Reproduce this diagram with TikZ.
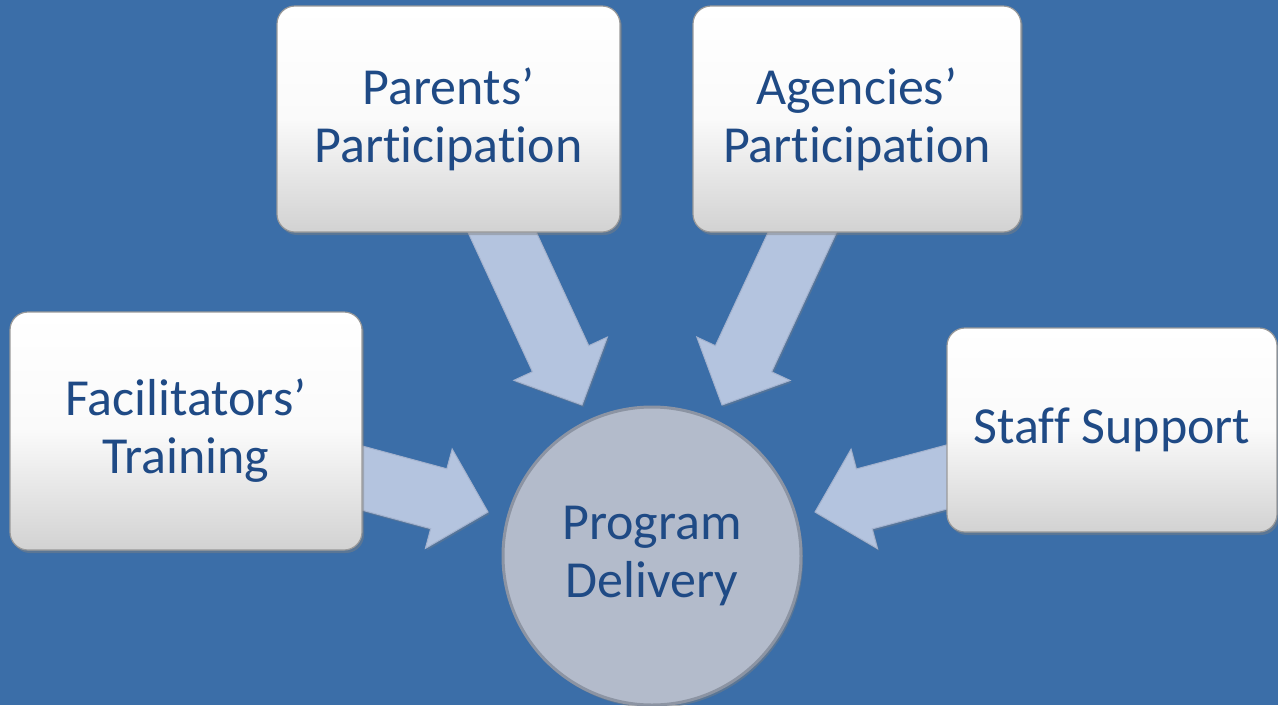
\documentclass[tikz,border=0pt]{standalone}
\usepackage{fontspec}
\setmainfont{Carlito}[Ligatures=NoCommon]
\usetikzlibrary{calc,shadows}
\definecolor{bgblue}{HTML}{3B6EA8}
\definecolor{txtblue}{HTML}{1F4A85}
\definecolor{arrowfill}{HTML}{B4C4DF}
\definecolor{arrowedge}{HTML}{A3B2CE}
\definecolor{circfill}{HTML}{B3BBCB}
\definecolor{circedge}{HTML}{8C94A3}
\definecolor{boxedge}{HTML}{9A9A9A}
\definecolor{boxbottom}{HTML}{D2D2D2}
\newcommand\blockarrow[3]{%
  \coordinate (#3b) at ($(#2)!51pt!(#1)$);
  \filldraw[arrowstyle]
    ($(#1)!31pt!90:(#2)$) -- ($(#3b)!31pt!90:(#2)$) -- ($(#3b)!51.5pt!90:(#2)$)
    -- (#2) -- ($(#3b)!51.5pt!-90:(#2)$) -- ($(#3b)!31pt!-90:(#2)$)
    -- ($(#1)!31pt!-90:(#2)$) -- cycle;
}
\tikzset{
  arrowstyle/.style={fill=arrowfill, draw=arrowedge, line width=1pt, line join=miter,
    drop shadow={shadow xshift=1.5pt, shadow yshift=-2pt, opacity=0.35}},
  boxstyle/.style={rectangle, rounded corners=18pt, draw=boxedge, line width=1.2pt,
    top color=white, bottom color=boxbottom, middle color=white!96!gray,
    drop shadow={shadow xshift=2pt, shadow yshift=-3pt, opacity=0.45},
    align=center, text=txtblue, font=\fontsize{52}{58}\selectfont, inner sep=0pt},
  circstyle/.style={circle, fill=circfill, draw=circedge, line width=3pt,
    drop shadow={shadow xshift=2pt, shadow yshift=-3pt, opacity=0.45},
    align=center, text=txtblue, font=\fontsize{52}{58}\selectfont, inner sep=0pt}
}
\begin{document}
\begin{tikzpicture}[x=1pt,y=-1pt]
\useasboundingbox (0,0) rectangle (1278,705);
\fill[bgblue] (0,0) rectangle (1278,705);
% arrow end points
\coordinate (pa1) at (493.6,213.8);
\coordinate (pa2) at (582,405);
\coordinate (ag1) at (810.9,213.8);
\coordinate (ag2) at (722,405);
\coordinate (fa1) at (342.7,472.8);
\coordinate (fa2) at (488,512);
\coordinate (st1) at (966.3,471.8);
\coordinate (st2) at (815,512);
\blockarrow{pa1}{pa2}{pa}
\blockarrow{ag1}{ag2}{ag}
\blockarrow{fa1}{fa2}{fa}
\blockarrow{st1}{st2}{st}
% boxes
\node[boxstyle, minimum width=343pt, minimum height=226pt] (parents) at (448.5,119) {Parents’\\Participation};
\node[boxstyle, minimum width=328pt, minimum height=226pt] (agencies) at (857,119) {Agencies’\\Participation};
\node[boxstyle, minimum width=352pt, minimum height=238pt] (facil) at (186,431) {Facilitators’\\Training};
\node[boxstyle, minimum width=330pt, minimum height=204pt] (staff) at (1112,430) {Staff Support};
\node[circstyle, minimum size=298pt] (prog) at (652,556) {Program\\Delivery};
\end{tikzpicture}
\end{document}
